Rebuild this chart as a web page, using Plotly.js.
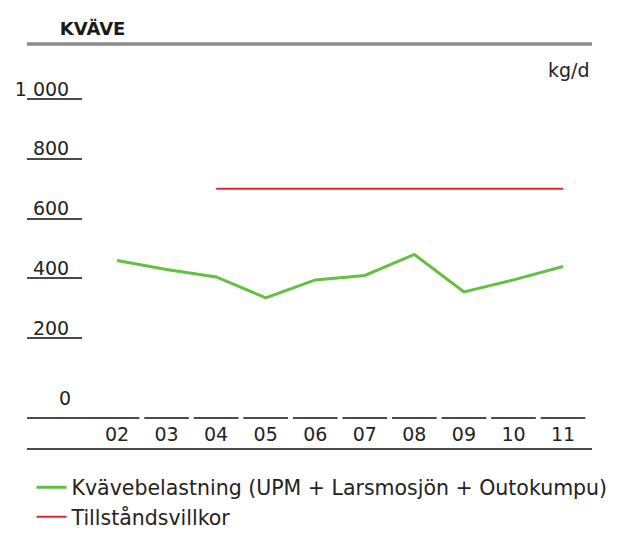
<!DOCTYPE html>
<html>
<head>
<meta charset="utf-8">
<script src="https://cdn.plot.ly/plotly-3.0.1.min.js"></script>
<style>html,body{margin:0;padding:0;background:#fff;}#chart{width:623px;height:542px;}</style>
</head>
<body>
<div id="chart"></div>
<script>
var years = ['02','03','04','05','06','07','08','09','10','11'];
var nitrogenLoad = [460, 430, 405, 335, 395, 410, 480, 355, 395, 440];
var permitYears = ['04','05','06','07','08','09','10','11'];
var permitLimit = [700, 700, 700, 700, 700, 700, 700, 700];
var yTickVals = [200, 400, 600, 800, 1000];
var yTickText = ['200', '400', '600', '800', '1 000'];
var zeroTickVals = [0];
var zeroTickText = ['0'];
var seriesNames = ['Kvävebelastning (UPM + Larsmosjön + Outokumpu)', 'Tillståndsvillkor'];
var chartTitle = 'KVÄVE';
var unitLabel = 'kg/d';

var FONT = 'DejaVu Sans, Noto Sans, sans-serif';
var TXT = '#232323';
var LINEC = '#4a4a4a';

var traces = [
  {x: years, y: nitrogenLoad, name: seriesNames[0], type: 'scatter', mode: 'lines',
   line: {color: '#66bf40', width: 3}, xaxis: 'x', yaxis: 'y'},
  {x: permitYears, y: permitLimit, name: seriesNames[1], type: 'scatter', mode: 'lines',
   line: {color: '#e8232b', width: 2}, xaxis: 'x', yaxis: 'y'}
];

// segmented baseline above the year labels
var shapes = [];
years.forEach(function(yr, i){
  shapes.push({type: 'line', xref: 'x', yref: 'paper',
    x0: i === 0 ? -3 : i - 0.45, x1: i + 0.45, y0: 0.0773, y1: 0.0773,
    line: {color: LINEC, width: 2}});
});
// rule under the title
shapes.push({type: 'line', xref: 'paper', yref: 'paper', x0: 0, x1: 1, y0: 1.041, y1: 1.041,
  line: {color: '#8a8a8a', width: 3.5}});

var layout = {
  width: 623, height: 542,
  margin: {l: 27, r: 31, t: 60, b: 94, autoexpand: false},
  paper_bgcolor: '#fff', plot_bgcolor: '#fff',
  font: {family: FONT, color: TXT, size: 19},
  showlegend: true,
  title: {text: '<b>' + chartTitle + '</b>', x: 0.058, xref: 'paper', xanchor: 'left',
    y: 0.947, yref: 'container', yanchor: 'middle',
    font: {family: FONT, size: 18, color: '#1a1a1a'}},
  xaxis: {type: 'category', range: [-1.816, 9.584], showgrid: false, zeroline: false,
    showline: true, linecolor: LINEC, linewidth: 2, ticks: '',
    ticklabelposition: 'inside', ticklabelstandoff: 4,
    tickfont: {family: FONT, size: 19, color: TXT}, fixedrange: true},
  yaxis: {range: [-167.2, 1130.4], anchor: 'free', position: 0.0973,
    showgrid: false, zeroline: false, showline: false, ticks: '',
    tickvals: zeroTickVals, ticktext: zeroTickText, ticklabelstandoff: 11,
    tickfont: {family: FONT, size: 19, color: TXT}},
  yaxis2: {range: [-167.2, 1130.4], overlaying: 'y', anchor: 'free', position: 0.0973,
    side: 'left', showgrid: false, zeroline: false, showline: false,
    ticks: 'outside', ticklen: 55, tickwidth: 2, tickcolor: LINEC,
    tickvals: yTickVals, ticktext: yTickText,
    ticklabelstandoff: -46, ticklabelshift: -10,
    tickfont: {family: FONT, size: 19, color: TXT}},
  legend: {x: 0.008, xanchor: 'left', y: -0.05, yanchor: 'top', orientation: 'v',
    bgcolor: 'rgba(0,0,0,0)', font: {family: FONT, size: 20.5, color: TXT},
    tracegroupgap: 0, itemwidth: 30},
  annotations: [{text: unitLabel, xref: 'paper', yref: 'paper', x: 1.0, y: 0.974,
    xanchor: 'right', yanchor: 'middle', showarrow: false,
    font: {family: FONT, size: 19, color: TXT}}],
  shapes: shapes
};

// dummy trace to activate yaxis2
traces.push({x: [years[0]], y: [null], xaxis: 'x', yaxis: 'y2', showlegend: false,
  hoverinfo: 'skip', mode: 'lines'});

Plotly.newPlot('chart', traces, layout, {displayModeBar: false, staticPlot: true});
</script>
</body>
</html>
